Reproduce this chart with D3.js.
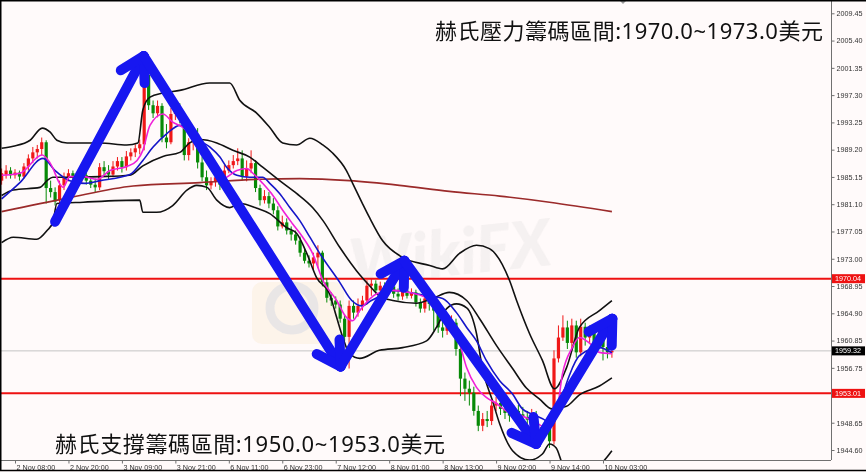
<!DOCTYPE html>
<html>
<head>
<meta charset="utf-8">
<script src="https://cdn.jsdelivr.net/npm/d3@7"></script>
<style>
html, body { margin: 0; padding: 0; background: #fffafa; }
svg { display: block; }
</style>
</head>
<body>
<svg id="chart" width="866" height="472"></svg>
<script>
// XAUUSD H1, 2 Nov 05:00 .. 10 Nov 05:00 (one entry per bar)
var open = [1984.6,1985.5,1986.1,1985.4,1985.8,1985.2,1986.7,1987.9,1988.8,1989.3,
  1990.3,1983.5,1982.9,1981.7,1983.9,1985.1,1985.7,1985.1,1984.8,1985.4,
  1984.6,1984.0,1983.6,1986.6,1986.0,1985.5,1986.7,1987.5,1986.6,1988.2,
  1988.8,1989.4,1990.0,2000.3,1995.8,1994.6,1995.7,1991.0,1990.3,1994.5,
  1995.2,1993.9,1988.4,1990.3,1991.5,1987.3,1985.1,1983.9,1984.5,1985.1,
  1984.0,1986.1,1986.9,1987.5,1987.9,1985.2,1986.4,1987.2,1983.5,1981.7,
  1982.3,1981.2,1980.2,1977.8,1978.4,1977.2,1976.6,1975.7,1973.9,1972.7,
  1972.3,1973.2,1973.9,1969.5,1967.2,1966.8,1966.2,1964.1,1961.4,1966.0,
  1965.0,1966.0,1966.8,1969.0,1969.3,1968.3,1969.0,1968.1,1968.9,1967.8,
  1967.4,1968.3,1967.5,1968.0,1966.5,1965.6,1967.1,1966.3,1965.3,1962.8,
  1962.3,1963.1,1963.5,1959.6,1955.2,1953.7,1953.1,1950.4,1948.2,1949.2,
  1948.9,1951.2,1951.6,1950.7,1950.1,1949.7,1950.4,1949.9,1949.5,1949.1,
  1949.8,1946.3,1947.1,1947.9,1945.9,1958.2,1961.3,1962.8,1960.5,1963.1,
  1959.1,1962.9,1961.3,1962.3,1960.5,1961.6,1959.9,1959.1];
var close = [1985.7,1986.1,1985.4,1985.8,1985.2,1986.7,1987.9,1988.8,1989.3,1990.3,
  1983.5,1982.9,1981.5,1983.9,1985.1,1985.7,1985.1,1984.8,1985.4,1984.6,
  1984.0,1983.6,1986.6,1986.0,1985.5,1986.7,1987.5,1986.6,1988.2,1988.8,
  1989.4,1990.0,2000.3,1995.8,1994.6,1995.7,1991.0,1990.3,1994.5,1995.2,
  1993.9,1988.4,1990.3,1991.5,1987.3,1985.1,1983.9,1984.5,1985.1,1984.0,
  1986.1,1986.9,1987.5,1987.9,1985.2,1986.4,1987.2,1983.5,1981.7,1982.3,
  1981.2,1980.2,1977.8,1978.4,1977.2,1976.6,1975.7,1973.9,1972.7,1972.3,
  1973.2,1973.9,1969.5,1967.2,1966.8,1966.2,1964.1,1961.4,1966.0,1965.0,
  1966.0,1966.8,1969.0,1969.3,1968.3,1969.0,1968.1,1968.9,1967.8,1967.4,
  1968.3,1967.5,1968.0,1966.5,1965.6,1967.1,1966.3,1965.3,1962.8,1962.3,
  1963.1,1963.5,1959.6,1955.2,1953.7,1953.1,1950.4,1948.2,1949.2,1948.9,
  1951.2,1951.6,1950.7,1950.1,1949.7,1950.4,1949.9,1949.5,1949.1,1949.8,
  1946.3,1947.1,1947.9,1945.9,1958.2,1961.3,1962.8,1960.5,1963.1,1959.1,
  1962.9,1961.3,1962.3,1960.5,1961.6,1959.9,1959.1,1959.3];
var high = [1986.4,1986.9,1986.6,1986.3,1986.1,1987.2,1988.5,1989.6,1989.9,1991.0,
  1990.6,1984.6,1983.6,1984.6,1985.8,1986.3,1986.1,1985.7,1986.0,1985.8,
  1985.2,1984.9,1987.2,1987.5,1986.9,1987.5,1988.1,1988.1,1989.0,1989.4,
  1990.0,1990.7,2003.7,2002.5,1996.5,1996.5,1996.1,1993.0,1995.4,1995.9,
  1996.1,1994.5,1990.9,1992.1,1992.4,1988.2,1986.1,1985.1,1985.5,1985.7,
  1986.9,1987.6,1988.4,1989.4,1989.1,1987.6,1989.1,1987.6,1984.0,1983.2,
  1982.9,1982.0,1980.8,1979.4,1979.0,1977.8,1977.2,1976.3,1974.5,1973.5,
  1973.9,1975.0,1974.2,1970.1,1968.0,1967.4,1966.8,1964.7,1966.8,1966.8,
  1967.1,1967.5,1969.8,1970.1,1969.8,1969.6,1969.5,1969.5,1969.3,1968.6,
  1969.0,1968.9,1968.6,1968.4,1967.1,1967.7,1967.7,1967.1,1965.9,1963.8,
  1964.1,1964.6,1964.1,1960.4,1956.1,1954.9,1954.0,1951.2,1950.1,1950.4,
  1951.9,1952.5,1952.2,1951.5,1951.2,1951.2,1951.3,1951.0,1950.4,1950.7,
  1950.4,1948.0,1948.9,1948.3,1959.4,1963.1,1964.6,1963.8,1964.1,1963.8,
  1964.1,1963.5,1963.1,1962.9,1962.3,1962.0,1960.8,1960.5];
var low = [1984.0,1984.9,1984.9,1984.9,1984.6,1984.9,1986.1,1987.2,1987.9,1988.4,
  1981.2,1982.1,1980.9,1981.1,1983.2,1984.5,1984.5,1984.2,1984.3,1984.0,
  1983.5,1982.9,1983.2,1985.2,1984.8,1985.1,1986.1,1985.8,1986.1,1987.6,
  1988.1,1988.5,1989.1,1995.1,1993.9,1994.0,1990.3,1989.4,1990.0,1993.6,
  1993.1,1987.6,1987.6,1989.1,1986.4,1984.5,1983.2,1983.3,1983.7,1983.2,
  1983.7,1985.7,1986.4,1986.9,1984.6,1984.5,1985.7,1982.9,1980.9,1981.2,
  1980.5,1979.6,1977.2,1977.5,1976.6,1975.7,1975.1,1973.3,1972.3,1971.7,
  1971.3,1971.6,1968.9,1966.5,1966.0,1965.6,1963.5,1960.8,1956.7,1964.1,
  1964.4,1965.3,1966.2,1967.5,1967.7,1967.8,1967.5,1967.7,1967.2,1966.8,
  1966.9,1967.1,1967.1,1965.9,1965.0,1965.0,1965.3,1962.3,1962.0,1961.3,
  1961.7,1962.3,1958.6,1952.6,1951.9,1951.2,1949.7,1947.4,1947.4,1948.0,
  1948.3,1950.4,1949.8,1949.2,1948.8,1949.1,1949.2,1948.9,1948.3,1948.6,
  1945.4,1945.7,1946.6,1944.9,1945.4,1957.6,1960.8,1959.6,1959.4,1958.3,
  1958.5,1960.1,1960.5,1959.6,1960.1,1957.9,1958.2,1958.3];

// indicator lines: [bar index, price]
var bbUpper = [[0,1989.4],[2.6,1989.7],[6.4,1990.6],[9.1,1992.4],[10.9,1991.8],[12.4,1990.6],[14.7,1990.2],
  [22.1,1990.2],[28.1,1989.9],[30.6,1990.2],[31.7,1995.1],[33.3,1997.0],[36.2,1997.6],[40,1998.0],
  [46.7,1999.1],[51.2,1999.1],[53.5,1996.5],[57.3,1994.6],[60.2,1992.5],[63.1,1990.2],[66.2,1989.9],
  [69.2,1990.9],[72.1,1989.9],[74.3,1988.7],[77.4,1986.1],[78.8,1984.2],[81.0,1981.2],[82.6,1979.1],
  [85.5,1975.7],[90.0,1973.2],[96.1,1972.0],[99.0,1971.5],[102.8,1973.8],[106.6,1975.0],[109.5,1974.5],
  [114.0,1969.8],[115.6,1966.8],[118.5,1961.9],[121.4,1957.9],[124.1,1953.7],[126.8,1956.8],
  [129.7,1962.8],[134.2,1965.3],[137,1966.8]];
var bbMid = [[0,1982.4],[2.6,1983.2],[8.6,1983.6],[10.2,1984.6],[11.5,1985.1],[15.3,1985.1],[22.1,1985.2],
  [28.8,1985.4],[31.7,1986.8],[36.2,1988.2],[40,1988.8],[42.2,1990.2],[44.5,1990.7],[48.3,1990.2],
  [51.9,1989.1],[55.7,1988.1],[58.6,1986.6],[62.4,1984.6],[66.2,1982.7],[69.8,1980.6],[72.1,1978.7],
  [75.9,1974.7],[79.7,1971.2],[82.6,1969.0],[84.8,1967.5],[87.8,1966.8],[93.1,1966.4],[96.7,1967.1],
  [100.5,1968.0],[104.4,1966.8],[107.3,1964.1],[111.1,1960.1],[114.7,1956.7],[117.8,1953.8],
  [120.7,1952.2],[123.6,1950.7],[126.8,1951.1],[129.7,1952.8],[134.2,1954.1],[137,1955.3]];
var bbLower = [[0,1975.4],[2.6,1976.2],[7.9,1975.9],[10.2,1977.2],[11.5,1978.4],[12.4,1981.2],[18.3,1981.4],
  [31.0,1981.7],[31.7,1979.9],[34.8,1979.9],[38.4,1980.9],[41.6,1983.2],[43.8,1983.9],[46.1,1983.6],
  [48.3,1981.7],[51.2,1980.6],[53.5,1981.2],[57.3,1980.5],[60.2,1979.7],[64.0,1977.6],[66.2,1976.8],
  [68.5,1973.8],[70.7,1970.2],[73.6,1967.8],[75.2,1964.3],[76.6,1961.3],[78.1,1958.9],[80.4,1958.2],
  [84.8,1959.4],[90.0,1959.8],[95.4,1960.8],[97.6,1962.8],[99.9,1965.6],[102.1,1966.3],[104.4,1965.7],
  [106.6,1961.9],[107.9,1956.8],[110.2,1951.9],[111.8,1948.5],[114.7,1944.5],[118.5,1943.1],
  [121.4,1944.0],[123.0,1945.5],[124.5,1944.9],[125.9,1942.5],[128.6,1940.7],[131.9,1941.2],
  [134.8,1942.7],[137,1944.5]];
var maFast = [[0,1985.4],[4.1,1985.7],[9.1,1988.4],[10.9,1987.2],[13.8,1983.6],[15.3,1985.2],[18.3,1985.2],
  [21.4,1984.8],[24.3,1986.1],[28.1,1986.7],[30.4,1987.6],[31.7,1989.1],[33.3,1992.8],[36.2,1994.5],
  [38.4,1993.3],[40.7,1992.5],[42.9,1991.0],[45.2,1989.1],[47.4,1986.4],[49.6,1984.9],[52.8,1986.1],
  [55.0,1986.4],[56.4,1985.7],[58.6,1984.2],[60.9,1982.4],[63.1,1980.2],[65.3,1978.2],[67.6,1976.2],
  [69.8,1973.8],[72.1,1969.8],[75.2,1966.8],[77.4,1964.3],[78.8,1963.8],[80.4,1965.3],[84.2,1967.8],
  [87.8,1968.3],[91.6,1968.0],[95.4,1967.2],[98.3,1965.8],[101.2,1962.8],[102.8,1960.4],[104.4,1956.8],
  [106.6,1953.9],[108.8,1952.4],[111.1,1951.5],[113.3,1950.4],[115.6,1950.0],[117.8,1949.4],
  [120.1,1948.6],[122.3,1947.9],[124.5,1949.9],[125.9,1955.9],[128.1,1959.8],[129.7,1961.3],
  [131.9,1960.5],[134.2,1959.1],[137,1958.9]];
var maMid = [[0,1981.9],[4.1,1984.3],[9.3,1987.9],[12.0,1986.1],[15.3,1984.6],[18.7,1984.2],[22.1,1984.6],
  [28.8,1985.5],[31.7,1987.6],[34.0,1989.6],[37.1,1991.6],[40,1992.8],[42.2,1992.1],[43.8,1990.9],
  [46.7,1989.6],[49.0,1988.1],[50.5,1986.6],[52.8,1985.4],[55.7,1985.1],[58.6,1985.1],[60.2,1984.2],
  [62.4,1982.7],[64.7,1980.6],[66.9,1978.7],[69.2,1976.2],[71.4,1973.8],[75.9,1969.5],[78.6,1966.8],
  [80.8,1966.0],[83.0,1966.8],[84.8,1967.4],[87.8,1968.3],[91.6,1968.0],[95.4,1967.5],[99.0,1967.1],
  [102.1,1965.0],[104.4,1962.8],[106.6,1960.8],[108.8,1957.9],[111.8,1954.9],[114.7,1952.9],
  [116.9,1950.7],[119.2,1949.9],[122.3,1948.9],[123.6,1948.2],[125.2,1951.2],[127.4,1955.6],
  [129.7,1958.6],[134.2,1959.8],[137,1959.0]];
var maSlow = [[0,1980.0],[14.7,1982.0],[29.5,1983.8],[44.5,1984.3],[57.9,1984.8],[66.9,1984.9],[78.1,1984.6],
  [89.3,1983.9],[100.5,1983.0],[111.8,1982.3],[123.0,1981.4],[137,1980.0]];

// hand drawn zig-zag, [bar index, price]
var arrowPts = [[12,1978.5],[31.9,2003.1],[76.1,1957.0],[90.4,1972.7],[120.0,1945.5],[137.1,1964.1]];

var levels = [1970.04, 1953.01];
var lastPrice = 1959.32;

var yTickVals = [2009.45,2005.40,2001.35,1997.30,1993.25,1989.20,1985.15,1981.10,1977.05,
  1973.00,1968.95,1964.90,1960.85,1956.80,1948.65,1944.60];
var yTickLabels = ["2009.45","2005.40","2001.35","1997.30","1993.25","1989.20","1985.15","1981.10","1977.05",
  "1973.00","1968.95","1964.90","1960.85","1956.75","1948.65","1944.60"];
var xTickIdx = [3,15,27,39,51,63,75,87,99,111,123,135];
var xTickLabels = ["2 Nov 08:00","2 Nov 20:00","3 Nov 09:00","3 Nov 21:00","6 Nov 11:00","6 Nov 23:00",
  "7 Nov 12:00","8 Nov 01:00","8 Nov 13:00","9 Nov 02:00","9 Nov 14:00","10 Nov 03:00"];

var noteTop = "赫氏壓力籌碼區間:1970.0~1973.0美元";
var noteBottom = "赫氏支撐籌碼區間:1950.0~1953.0美元";

var width = 866, height = 472;
var plotR = 831, plotB = 460;

var svg = d3.select("#chart");

var x = d3.scaleLinear().domain([0, 137]).range([1.64, 1.64 + 4.4545 * 137]);
var y = d3.scaleLinear().domain([1944.60, 2009.45]).range([450, 13.3]);

svg.append("rect").attr("width", width).attr("height", height).attr("fill", "#fffafa");

svg.append("clipPath").attr("id", "plot")
  .append("rect").attr("x", 0).attr("y", 0).attr("width", plotR).attr("height", plotB);

var plot = svg.append("g").attr("clip-path", "url(#plot)");

/* watermark */
var wm = plot.append("g").attr("opacity", 0.45);
wm.append("rect").attr("x", 252).attr("y", 282).attr("width", 92).attr("height", 62).attr("rx", 10)
  .attr("fill", "#f6e3bf").attr("opacity", 0.6);
wm.append("circle").attr("cx", 292).attr("cy", 308).attr("r", 22)
  .attr("fill", "none").attr("stroke", "#cfcfcf").attr("stroke-width", 9);
wm.append("text").attr("x", 352).attr("y", 286)
  .attr("transform", "rotate(-6 352 286)")
  .style("font-family", "Lato, 'Open Sans', sans-serif")
  .style("font-weight", "900").style("font-style", "italic").style("font-size", "64px")
  .attr("fill", "#d4d4d4").attr("opacity", 0.55)
  .text("WikiFX");

/* level lines */
plot.append("line").attr("x1", 0).attr("x2", plotR)
  .attr("y1", y(lastPrice)).attr("y2", y(lastPrice))
  .attr("stroke", "#c4c4c4").attr("stroke-width", 1);
plot.selectAll("line.level").data(levels).enter().append("line")
  .attr("class", "level")
  .attr("x1", 0).attr("x2", plotR)
  .attr("y1", d => y(d)).attr("y2", d => y(d))
  .attr("stroke", "#ee1111").attr("stroke-width", 2);

/* candles */
var bars = d3.range(open.length).map(i => ({i: i, o: open[i], c: close[i], h: high[i], l: low[i]}));
var upCol = "#f01818", dnCol = "#078a07";
var cg = plot.append("g");
cg.selectAll("line.wick").data(bars).enter().append("line")
  .attr("class", "wick")
  .attr("x1", d => x(d.i)).attr("x2", d => x(d.i))
  .attr("y1", d => y(d3.max([d.h, d.o, d.c]))).attr("y2", d => y(d3.min([d.l, d.o, d.c])))
  .attr("stroke", d => d.c >= d.o ? upCol : dnCol).attr("stroke-width", 1);
cg.selectAll("rect.body").data(bars).enter().append("rect")
  .attr("class", "body")
  .attr("x", d => x(d.i) - 1.6).attr("width", 3.2)
  .attr("y", d => y(Math.max(d.o, d.c)))
  .attr("height", d => Math.max(1, Math.abs(y(d.o) - y(d.c))))
  .attr("fill", d => d.c >= d.o ? upCol : dnCol);

/* indicators */
var line = d3.line().x(d => x(d[0])).y(d => y(d[1])).curve(d3.curveMonotoneX);
var series = [
  {pts: maSlow, col: "#9b2a2a", w: 1.6},
  {pts: bbUpper, col: "#111", w: 1.6},
  {pts: bbMid, col: "#111", w: 1.6},
  {pts: bbLower, col: "#111", w: 1.6},
  {pts: maMid, col: "#1515c8", w: 1.6},
  {pts: maFast, col: "#f020d8", w: 1.6}
];
plot.selectAll("path.ind").data(series).enter().append("path")
  .attr("class", "ind")
  .attr("d", d => line(d.pts))
  .attr("fill", "none")
  .attr("stroke", d => d.col)
  .attr("stroke-width", d => d.w)
  .attr("stroke-linejoin", "round");

/* arrows */
var ag = plot.append("g")
  .attr("stroke", "#1717f0").attr("stroke-width", 10)
  .attr("stroke-linecap", "round").attr("stroke-linejoin", "round").attr("fill", "none");
var ap = arrowPts.map(d => [x(d[0]), y(d[1])]);
for (var k = 1; k < ap.length; k++) {
  var a = ap[k - 1], b = ap[k];
  ag.append("line").attr("x1", a[0]).attr("y1", a[1]).attr("x2", b[0]).attr("y2", b[1]);
  var ang = Math.atan2(a[1] - b[1], a[0] - b[0]);
  [-Math.PI / 6, Math.PI / 6].forEach(function(off) {
    ag.append("line")
      .attr("x1", b[0]).attr("y1", b[1])
      .attr("x2", b[0] + 27 * Math.cos(ang + off))
      .attr("y2", b[1] + 27 * Math.sin(ang + off));
  });
}

/* axes */
var axisCol = "#707070";
svg.append("line").attr("x1", plotR + 0.5).attr("x2", plotR + 0.5).attr("y1", 0).attr("y2", plotB)
  .attr("stroke", axisCol).attr("stroke-width", 1);
svg.append("line").attr("x1", 0).attr("x2", plotR).attr("y1", plotB + 0.5).attr("y2", plotB + 0.5)
  .attr("stroke", axisCol).attr("stroke-width", 1);

var yAxis = svg.append("g")
  .attr("transform", "translate(" + (plotR + 0.5) + ",0)")
  .call(d3.axisRight(y).tickValues(yTickVals).tickFormat((d, i) => yTickLabels[i]).tickSize(3).tickPadding(2));
yAxis.select(".domain").remove();
yAxis.selectAll("line").attr("stroke", axisCol);
yAxis.selectAll("text").attr("fill", "#333")
  .style("font-family", "'Liberation Sans', Arial, sans-serif").style("font-size", "7.2px");

var xAxis = svg.append("g")
  .attr("transform", "translate(0," + (plotB + 0.5) + ")")
  .call(d3.axisBottom(x).tickValues(xTickIdx).tickFormat((d, i) => xTickLabels[i]).tickSize(3).tickPadding(1));
xAxis.select(".domain").remove();
xAxis.selectAll("line").attr("stroke", axisCol);
xAxis.selectAll("text").attr("fill", "#333")
  .attr("text-anchor", "start").attr("x", 1)
  .style("font-family", "'Liberation Sans', Arial, sans-serif").style("font-size", "7.2px");

/* price tags on the right axis */
var tags = levels.map(v => ({v: v, bg: "#ee1111"})).concat([{v: lastPrice, bg: "#000"}]);
var tg = svg.selectAll("g.tag").data(tags).enter().append("g").attr("class", "tag");
tg.append("rect")
  .attr("x", plotR + 1).attr("width", 33)
  .attr("y", d => y(d.v) - 4.5).attr("height", 9)
  .attr("fill", d => d.bg);
tg.append("text")
  .attr("x", plotR + 4).attr("y", d => y(d.v) + 2.6)
  .attr("fill", "#fff")
  .style("font-family", "'Liberation Sans', Arial, sans-serif").style("font-size", "7.2px")
  .text(d => d.v.toFixed(2));

/* shift marker */
svg.append("path").attr("d", "M619,0 L627,0 L623,4 Z").attr("fill", "#999");

/* notes */
var noteFont = "'Noto Sans', 'Noto Sans CJK TC', 'Noto Sans CJK SC', sans-serif";
svg.append("text").attr("x", 435).attr("y", 39)
  .attr("textLength", 388).attr("lengthAdjust", "spacing")
  .style("font-family", noteFont).style("font-size", "22px")
  .attr("fill", "#111").text(noteTop);
svg.append("text").attr("x", 55).attr("y", 452)
  .attr("textLength", 390).attr("lengthAdjust", "spacing")
  .style("font-family", noteFont).style("font-size", "22px")
  .attr("fill", "#111").text(noteBottom);

/* frame */
svg.append("path").attr("d", "M0.75,471 L0.75,0.75 L866,0.75").attr("fill", "none")
  .attr("stroke", "#000").attr("stroke-width", 1.5);
svg.append("line").attr("x1", 0).attr("x2", width).attr("y1", 470.5).attr("y2", 470.5)
  .attr("stroke", "#000").attr("stroke-width", 1.5);
</script>
</body>
</html>
